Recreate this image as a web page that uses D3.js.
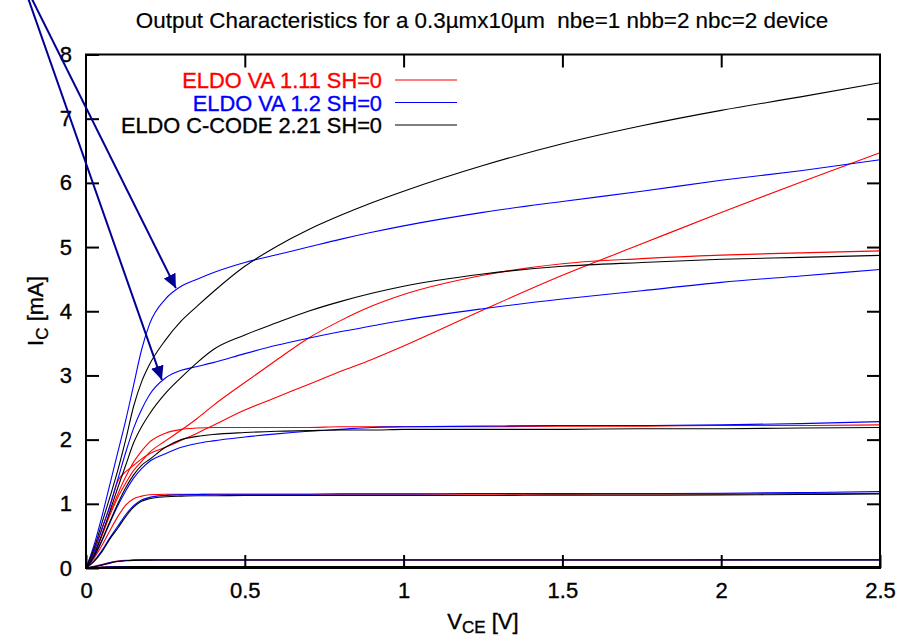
<!DOCTYPE html>
<html>
<head>
<meta charset="utf-8">
<script src="https://cdn.jsdelivr.net/npm/d3@7"></script>
<style>
  body { margin: 0; background: #fff; }
  text { font-family: 'Liberation Sans', Arial, Helvetica, sans-serif; white-space: pre; }
</style>
</head>
<body>
<script>
// V_CE grid shared by every curve
const vce = [0, 0.025, 0.05, 0.075, 0.1, 0.125, 0.15, 0.175, 0.2, 0.25, 0.3, 0.35, 0.4,
    0.5, 0.6, 0.7, 0.8, 0.9, 1.0, 1.25, 1.5, 1.75, 2.0, 2.25, 2.5];

// ELDO VA 1.11 (red), one array per base drive
const icVA111 = [
    [0, 0.006, 0.013, 0.018, 0.021, 0.022, 0.023, 0.023, 0.023, 0.023, 0.023, 0.023, 0.023, 0.023, 0.023, 0.023, 0.023, 0.023, 0.023, 0.023, 0.023, 0.023, 0.023, 0.023, 0.024],
    [0, 0.025, 0.055, 0.085, 0.108, 0.12, 0.125, 0.127, 0.127, 0.127, 0.127, 0.127, 0.127, 0.127, 0.127, 0.127, 0.127, 0.127, 0.127, 0.127, 0.127, 0.127, 0.127, 0.128, 0.128],
    [0, 0.15, 0.35, 0.58, 0.8, 0.98, 1.08, 1.12, 1.14, 1.15, 1.15, 1.15, 1.15, 1.15, 1.15, 1.15, 1.15, 1.15, 1.15, 1.15, 1.15, 1.155, 1.155, 1.16, 1.16],
    [0, 0.22, 0.52, 0.85, 1.15, 1.42, 1.65, 1.82, 1.96, 2.1, 2.16, 2.18, 2.19, 2.19, 2.19, 2.19, 2.2, 2.2, 2.2, 2.2, 2.21, 2.21, 2.22, 2.22, 2.23],
    [0, 0.2, 0.5, 0.82, 1.1, 1.32, 1.52, 1.66, 1.8, 1.98, 2.15, 2.33, 2.53, 2.89, 3.24, 3.58, 3.85, 4.08, 4.26, 4.56, 4.74, 4.82, 4.875, 4.91, 4.94],
    [0, 0.28, 0.62, 0.95, 1.35, 1.5, 1.6, 1.7, 1.78, 1.88, 1.99, 2.1, 2.22, 2.46, 2.66, 2.86, 3.06, 3.25, 3.46, 4.02, 4.56, 5.05, 5.54, 6.01, 6.47]
];

// ELDO VA 1.2 (blue)
const icVA12 = [
    [0, 0.006, 0.012, 0.017, 0.02, 0.021, 0.022, 0.022, 0.022, 0.022, 0.022, 0.022, 0.022, 0.022, 0.022, 0.022, 0.022, 0.022, 0.022, 0.022, 0.022, 0.022, 0.022, 0.022, 0.023],
    [0, 0.02, 0.05, 0.08, 0.104, 0.117, 0.122, 0.124, 0.125, 0.125, 0.125, 0.125, 0.125, 0.125, 0.125, 0.125, 0.125, 0.125, 0.125, 0.125, 0.125, 0.125, 0.126, 0.126, 0.126],
    [0, 0.11, 0.27, 0.47, 0.65, 0.83, 0.97, 1.06, 1.1, 1.13, 1.14, 1.145, 1.15, 1.15, 1.15, 1.15, 1.155, 1.155, 1.155, 1.16, 1.16, 1.16, 1.165, 1.175, 1.19],
    [0, 0.17, 0.42, 0.7, 0.97, 1.2, 1.4, 1.55, 1.66, 1.78, 1.88, 1.94, 1.98, 2.04, 2.09, 2.13, 2.16, 2.19, 2.2, 2.21, 2.22, 2.22, 2.23, 2.25, 2.28],
    [0, 0.25, 0.6, 0.97, 1.38, 1.8, 2.18, 2.47, 2.7, 2.96, 3.08, 3.14, 3.2, 3.34, 3.47, 3.58, 3.68, 3.77, 3.86, 4.04, 4.19, 4.32, 4.45, 4.55, 4.65],
    [0, 0.35, 0.8, 1.3, 1.8, 2.3, 2.85, 3.4, 3.8, 4.19, 4.39, 4.5, 4.6, 4.76, 4.88, 5.0, 5.12, 5.23, 5.33, 5.54, 5.71, 5.87, 6.04, 6.19, 6.36]
];

// ELDO C-CODE 2.21 (black)
const icCCode = [
    [0, 0.005, 0.011, 0.016, 0.019, 0.02, 0.021, 0.021, 0.021, 0.021, 0.021, 0.021, 0.021, 0.021, 0.021, 0.021, 0.021, 0.021, 0.021, 0.021, 0.021, 0.021, 0.021, 0.021, 0.021],
    [0, 0.018, 0.045, 0.075, 0.1, 0.113, 0.119, 0.122, 0.123, 0.124, 0.124, 0.124, 0.124, 0.124, 0.124, 0.124, 0.124, 0.124, 0.124, 0.124, 0.124, 0.124, 0.124, 0.125, 0.125],
    [0, 0.1, 0.25, 0.45, 0.62, 0.8, 0.95, 1.04, 1.08, 1.11, 1.12, 1.125, 1.125, 1.13, 1.13, 1.13, 1.13, 1.13, 1.13, 1.13, 1.135, 1.135, 1.14, 1.145, 1.155],
    [0, 0.18, 0.43, 0.72, 1.0, 1.25, 1.45, 1.6, 1.69, 1.88, 2.0, 2.05, 2.08, 2.11, 2.13, 2.14, 2.15, 2.15, 2.16, 2.16, 2.16, 2.17, 2.17, 2.18, 2.19],
    [0, 0.2, 0.52, 0.88, 1.25, 1.6, 1.95, 2.2, 2.4, 2.72, 2.97, 3.2, 3.4, 3.63, 3.82, 4.0, 4.15, 4.28, 4.39, 4.58, 4.7, 4.76, 4.81, 4.84, 4.87],
    [0, 0.3, 0.7, 1.1, 1.52, 2.0, 2.52, 2.9, 3.17, 3.55, 3.85, 4.08, 4.3, 4.7, 5.01, 5.27, 5.49, 5.69, 5.87, 6.27, 6.61, 6.89, 7.13, 7.34, 7.56]
];

const seriesNames = ['ELDO VA 1.11 SH=0', 'ELDO VA 1.2 SH=0', 'ELDO C-CODE 2.21 SH=0'];
const seriesColors = ['#ff0000', '#0000ff', '#000000'];
const seriesData = [icVA111, icVA12, icCCode];

const xTicks = [0, 0.5, 1, 1.5, 2, 2.5];
const yTicks = [0, 1, 2, 3, 4, 5, 6, 7, 8];

// annotation arrows: common start (outside the plot) and two tips [V, mA]
const arrowStart = [-0.208, 9.24];
const arrowTips = [[0.283, 4.36], [0.239, 2.93]];

const title = 'Output Characteristics for a 0.3\u00b5mx10\u00b5m  nbe=1 nbb=2 nbc=2 device';

// svg尺寸
const width = 901;
const height = 638;
const plot = { left: 86, right: 880, top: 54.5, bottom: 568 };

const svg = d3.select('body')
    .append('svg')
    .attr('width', width)
    .attr('height', height);

const xScale = d3.scaleLinear().domain([0, 2.5]).range([plot.left, plot.right]);
const yScale = d3.scaleLinear().domain([0, 8]).range([plot.bottom, plot.top]);

svg.append('defs').append('clipPath')
    .attr('id', 'clip')
    .append('rect')
    .attr('x', plot.left)
    .attr('y', plot.top)
    .attr('width', plot.right - plot.left)
    .attr('height', plot.bottom - plot.top);

// 曲线
const linePath = d3.line()
    .x(d => xScale(d[0]))
    .y(d => yScale(d[1]))
    .curve(d3.curveMonotoneX);

seriesData.forEach((curves, s) => {
    svg.append('g')
        .attr('clip-path', 'url(#clip)')
        .selectAll('path')
        .data(curves)
        .enter()
        .append('path')
        .attr('d', ic => linePath(vce.map((v, i) => [v, ic[i]])))
        .attr('fill', 'none')
        .attr('stroke', seriesColors[s])
        .attr('stroke-width', 1.1);
});

// axes, ticks pointing inward on all four sides
const fontSize = 22;
const heavy = 0.35; // thin outline so glyphs look as dark as the original

const xAxis = d3.axisBottom(xScale).tickValues(xTicks).tickSize(-13).tickSizeOuter(0)
    .tickPadding(14).tickFormat(d => String(d));
const yAxis = d3.axisLeft(yScale).tickValues(yTicks).tickSize(-13).tickSizeOuter(0)
    .tickPadding(14).tickFormat(d => String(d));

const gx = svg.append('g').attr('transform', 'translate(0,' + plot.bottom + ')').call(xAxis);
const gy = svg.append('g').attr('transform', 'translate(' + plot.left + ',0)').call(yAxis);
const gxTop = svg.append('g').attr('transform', 'translate(0,' + plot.top + ')')
    .call(d3.axisTop(xScale).tickValues(xTicks.slice(1, -1)).tickSize(-13).tickFormat(''));
const gyRight = svg.append('g').attr('transform', 'translate(' + plot.right + ',0)')
    .call(d3.axisRight(yScale).tickValues(yTicks.slice(1, -1)).tickSize(-13).tickFormat(''));

[gx, gy, gxTop, gyRight].forEach(g => {
    g.select('.domain').remove();
    g.selectAll('line').attr('stroke', '#000').attr('stroke-width', 2);
    g.selectAll('text')
        .attr('font-size', fontSize)
        .attr('fill', '#000')
        .attr('stroke', '#000')
        .attr('stroke-width', heavy)
        .style('font-family', "'Liberation Sans', Arial, sans-serif");
});

svg.append('rect')
    .attr('x', plot.left)
    .attr('y', plot.top)
    .attr('width', plot.right - plot.left)
    .attr('height', plot.bottom - plot.top)
    .attr('fill', 'none')
    .attr('stroke', '#000')
    .attr('stroke-width', 2);

// legend
const legend = svg.append('g');
seriesNames.forEach((name, i) => {
    const yy = 80 + i * 22.5;
    legend.append('text')
        .attr('x', 382)
        .attr('y', yy + 8)
        .attr('text-anchor', 'end')
        .attr('font-size', 21.8)
        .attr('fill', seriesColors[i])
        .attr('stroke', seriesColors[i])
        .attr('stroke-width', heavy)
        .text(name);
    legend.append('line')
        .attr('x1', 395)
        .attr('x2', 457)
        .attr('y1', yy)
        .attr('y2', yy)
        .attr('stroke', seriesColors[i])
        .attr('stroke-width', 1.1);
});

// arrows
const arrowColor = '#000094';
svg.select('defs').append('marker')
    .attr('id', 'head')
    .attr('markerUnits', 'userSpaceOnUse')
    .attr('viewBox', '-14 -7 14 14')
    .attr('refX', 0)
    .attr('refY', 0)
    .attr('markerWidth', 14)
    .attr('markerHeight', 14)
    .attr('orient', 'auto')
    .append('path')
    .attr('d', 'M0,0L-14,-6.5L-14,6.5Z')
    .attr('fill', arrowColor);

svg.append('g')
    .selectAll('line')
    .data(arrowTips)
    .enter()
    .append('line')
    .attr('x1', xScale(arrowStart[0]))
    .attr('y1', yScale(arrowStart[1]))
    .attr('x2', d => xScale(d[0]))
    .attr('y2', d => yScale(d[1]))
    .attr('stroke', arrowColor)
    .attr('stroke-width', 2)
    .attr('marker-end', 'url(#head)');

// title and axis labels
svg.append('text')
    .attr('x', 482)
    .attr('y', 28)
    .attr('text-anchor', 'middle')
    .attr('font-size', 22.4)
    .attr('stroke', '#000')
    .attr('stroke-width', 0.2)
    .text(title);

const xLabel = svg.append('text')
    .attr('x', 483)
    .attr('y', 629)
    .attr('text-anchor', 'middle')
    .attr('font-size', fontSize)
    .attr('stroke', '#000')
    .attr('stroke-width', heavy);
xLabel.append('tspan').text('V');
xLabel.append('tspan').attr('dy', 4).attr('font-size', 17).text('CE');
xLabel.append('tspan').attr('dy', -4).text(' [V]');

const yLabel = svg.append('text')
    .attr('transform', 'translate(43,311) rotate(-90)')
    .attr('text-anchor', 'middle')
    .attr('font-size', fontSize)
    .attr('stroke', '#000')
    .attr('stroke-width', heavy);
yLabel.append('tspan').text('I');
yLabel.append('tspan').attr('dy', 5).attr('font-size', 17).text('C');
yLabel.append('tspan').attr('dy', -5).text(' [mA]');
</script>
</body>
</html>
